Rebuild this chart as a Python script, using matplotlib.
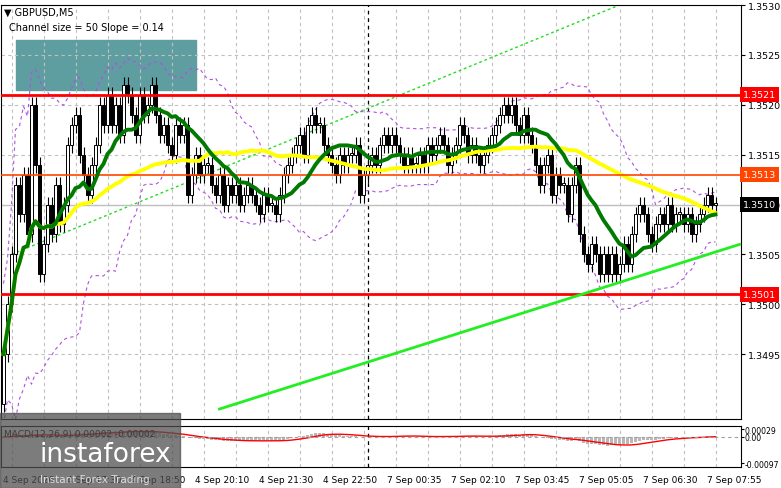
import numpy as np
import pandas as pd
import matplotlib
matplotlib.use("Agg")
import matplotlib.pyplot as plt
from matplotlib.patches import Rectangle

# closes, one per 5-minute candle
closes = [
    1.3495, 1.3500, 1.3505, 1.3512, 1.3509, 1.3513, 1.3507, 1.3520, 1.3514, 1.3503,
    1.3506, 1.3510, 1.3507, 1.3512, 1.3508, 1.3510, 1.3516, 1.3518, 1.3519, 1.3515,
    1.3513, 1.3511, 1.3514, 1.3516, 1.3520, 1.3518, 1.3521, 1.3518, 1.3520, 1.3517,
    1.3522, 1.3521, 1.3519, 1.3517, 1.3521, 1.3519, 1.3520, 1.3522, 1.3519, 1.3517,
    1.3518, 1.3516, 1.3515, 1.3518, 1.3517, 1.3518, 1.3511, 1.3513, 1.3515, 1.3513,
    1.3514, 1.3514, 1.3512, 1.3511, 1.3513, 1.3510, 1.3512, 1.3511, 1.3512, 1.3510,
    1.3511, 1.3512, 1.3511, 1.3510, 1.3509, 1.3511, 1.3510, 1.3510, 1.3509, 1.3511,
    1.3513, 1.3514, 1.3515, 1.3516, 1.3517, 1.3515, 1.3518, 1.3519, 1.3518, 1.3518,
    1.3516, 1.3515, 1.3514, 1.3513, 1.3515, 1.3514, 1.3515, 1.3515, 1.3516, 1.3511,
    1.3513, 1.3514, 1.3515, 1.3514, 1.3516, 1.3517, 1.3516, 1.3517, 1.3516, 1.3515,
    1.3514, 1.3515, 1.3514, 1.3514, 1.3515, 1.3514, 1.3516, 1.3515, 1.3516, 1.3517,
    1.3516, 1.3514, 1.3515, 1.3516, 1.3518, 1.3517, 1.3515, 1.3516, 1.3515, 1.3514,
    1.3515, 1.3516, 1.3517, 1.3518, 1.3519, 1.3520, 1.3519, 1.3520, 1.3518, 1.3517,
    1.3519, 1.3517, 1.3516, 1.3514, 1.3512, 1.3514, 1.3515, 1.3511, 1.3513, 1.3512,
    1.3512, 1.3509, 1.3512, 1.3514, 1.3507, 1.3505, 1.3504, 1.3506, 1.3505, 1.3503,
    1.3505, 1.3503, 1.3505, 1.3503, 1.3504, 1.3506, 1.3504, 1.3507, 1.3509, 1.3510,
    1.3509, 1.3507, 1.3506, 1.3508, 1.3509, 1.3508, 1.3510, 1.3508, 1.3509, 1.3509,
    1.3508, 1.3509, 1.3507, 1.3508, 1.3509, 1.3510, 1.3511, 1.3510, 1.3510,
]
first_open = 1.3490
wick = 0.00008

time_labels = ["4 Sep 2026", "4 Sep 17:30", "4 Sep 18:50", "4 Sep 20:10", "4 Sep 21:30",
               "4 Sep 22:50", "7 Sep 00:35", "7 Sep 02:10", "7 Sep 03:45", "7 Sep 05:05",
               "7 Sep 06:30", "7 Sep 07:55"]
time_label_idx = [0, 16, 32, 48, 64, 80, 96, 112, 128, 144, 160, 176]

resist = 1.3521
mid_level = 1.3513
last_price = 1.3510
support = 1.3501
price_ticks = [1.3495, 1.3500, 1.3505, 1.3510, 1.3515, 1.3520, 1.3525, 1.3530]
box = (3, 48, 1.35215, 1.35265)          # i0, i1, p0, p1
trend = ([54, 184], [1.34895, 1.3506])
trend_dotted = ([2, 154], [1.3505, 1.3530])
vline_idx = 91

c = np.array(closes)
o = np.concatenate([[first_open], c[:-1]])
n = len(c)
idx = np.arange(n)
s = pd.Series(c)
ma_fast = s.rolling(14, min_periods=1).mean()
ma_slow = s.rolling(50, min_periods=1).mean()
bb_mid = s.rolling(20, min_periods=1).mean()
bb_sd = s.rolling(20, min_periods=2).std().bfill()
ema12 = s.ewm(span=12).mean()
ema26 = s.ewm(span=26).mean()
macd = ema12 - ema26
signal = macd.rolling(9, min_periods=1).mean()

fig = plt.figure(figsize=(7.81, 4.89), dpi=100)
W, H = 781, 489
ax = fig.add_axes([0.5 / W, 1 - 420 / H, 740 / W, 414 / H])
axm = fig.add_axes([0.5 / W, 1 - 468 / H, 740 / W, 41 / H])

xl = (-0.75, 184.25)
for a in (ax, axm):
    a.set_xlim(*xl)
    a.set_xticks(np.arange(2, 185, 8))
    a.grid(True, color="#c0c0c0", linestyle=(0, (3, 3)), linewidth=0.8)
    a.tick_params(axis="x", length=0, labelbottom=False)
    a.yaxis.tick_right()
    a.tick_params(axis="y", length=3, labelsize=6.8, pad=2)
    a.axvline(vline_idx, color="black", linestyle=(0, (3, 3)), linewidth=0.9)

ax.set_ylim(1.34885, 1.35300)
ax.set_yticks(price_ticks)
ax.set_yticklabels([f"{p:.4f}" for p in price_ticks])

ax.add_patch(Rectangle((box[0], box[2]), box[1] - box[0], box[3] - box[2],
                       color="#5f9ea0", zorder=1))
ax.plot(trend_dotted[0], trend_dotted[1], color="#22dd22", linestyle=(0, (2, 2)), lw=1, zorder=2)
ax.plot(idx, bb_mid + 2 * bb_sd, color="#b050e0", linestyle=(0, (3, 3)), lw=0.8, zorder=2)
ax.plot(idx, bb_mid - 2 * bb_sd, color="#b050e0", linestyle=(0, (3, 3)), lw=0.8, zorder=2)

for i in range(n):
    hi = max(o[i], c[i]) + wick
    lo = min(o[i], c[i]) - wick
    ax.vlines(i, lo, hi, color="black", lw=0.8, zorder=3)
    face = "white" if c[i] >= o[i] else "black"
    body = max(abs(c[i] - o[i]), 0.00002)
    ax.add_patch(Rectangle((i - 0.35, min(o[i], c[i])), 0.7, body, facecolor=face,
                           edgecolor="black", lw=0.7, zorder=4))

ax.plot(idx, ma_slow, color="#ffff00", lw=2.8, zorder=5)
ax.plot(idx, ma_fast, color="#007a00", lw=2.8, zorder=6)
ax.plot(trend[0], trend[1], color="#22ee22", lw=2, zorder=6)

ax.axhline(resist, color="#ff0000", lw=2, zorder=5)
ax.axhline(support, color="#ff0000", lw=2, zorder=5)
ax.axhline(mid_level, color="#ff4500", lw=1.2, zorder=5)
ax.axhline(last_price, color="#c0c0c0", lw=1, zorder=2)
for p, col in [(resist, "#ff0000"), (support, "#ff0000"), (mid_level, "#ff4500"), (last_price, "black")]:
    ax.text(1.003, p, f"{p:.4f}", transform=ax.get_yaxis_transform(), color="white",
            fontsize=6.8, va="center", ha="left",
            bbox=dict(boxstyle="square,pad=0.3", fc=col, ec="none"), zorder=10)

ax.text(0.005, 0.995, "▼ GBPUSD,M5", transform=ax.transAxes, fontsize=7, va="top")
ax.text(0.012, 0.958, "Channel size = 50 Slope = 0.14", transform=ax.transAxes, fontsize=7, va="top")

axm.bar(idx, macd, width=0.6, color="#b8b8b8")
axm.plot(idx, signal, color="#ff0000", lw=1)
axm.axhline(0, color="#a0a0a0", lw=0.8, linestyle=(0, (3, 3)))
axm.set_ylim(-0.0011, 0.0004)
axm.set_yticks([0.00029, 0.0, -0.00097])
axm.set_yticklabels(["0.00029", "0.00", "-0.00097"])
axm.tick_params(axis="y", labelsize=5.6, pad=1, length=2)
axm.yaxis.grid(False)
axm.text(0.005, 0.93, "MACD(12,26,9) 0.00002 -0.00002", transform=axm.transAxes, fontsize=6.5, va="top")

for lab, i in zip(time_labels, time_label_idx):
    fig.text((i - xl[0]) / (xl[1] - xl[0]) * 740 / W, 1 - 481 / H, lab, fontsize=6.5,
             ha="left", va="center")

fig.patches.append(Rectangle((0, 0), 180 / W, 75 / H, transform=fig.transFigure,
                             color="#505050", alpha=0.75, zorder=20))
fig.text(40 / W, 1 - 455 / H, "instaforex", fontsize=19, color="white", zorder=21, va="center")
fig.text(40 / W, 1 - 480 / H, "Instant Forex Trading", fontsize=7.5, color="#dddddd", zorder=21, va="center")

fig.savefig("out.png", dpi=100)
